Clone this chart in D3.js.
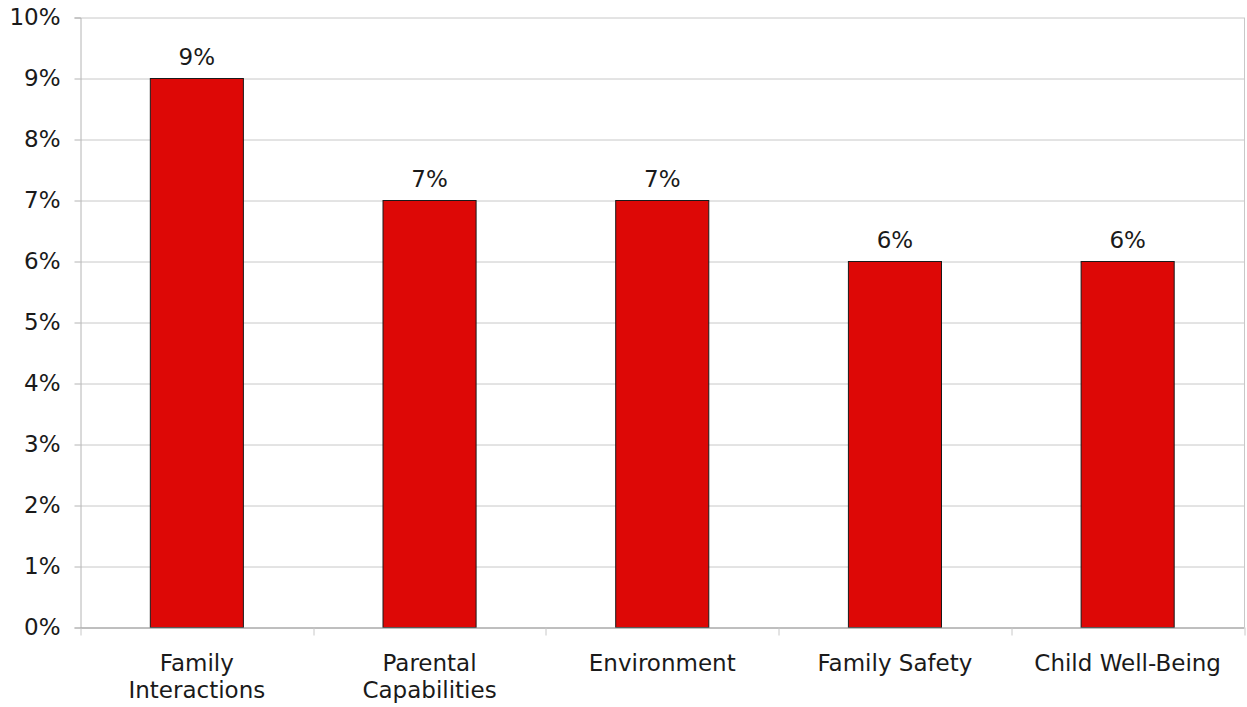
<!DOCTYPE html>
<html>
<head>
<meta charset="utf-8">
<script src="https://cdn.jsdelivr.net/npm/d3@7"></script>
<style>
  html, body { margin: 0; padding: 0; background: #fff; }
  svg { display: block; }
  text { font-family: "DejaVu Sans", Verdana, sans-serif; fill: #1a1a1a; }
</style>
</head>
<body>
<svg id="chart" width="1247" height="707"></svg>
<script>
// Share of cases by domain
const categories = [
  ["Family", "Interactions"],
  ["Parental", "Capabilities"],
  ["Environment"],
  ["Family Safety"],
  ["Child Well-Being"]
];
const values = [9, 7, 7, 6, 6];
const yTicks = [0, 1, 2, 3, 4, 5, 6, 7, 8, 9, 10];

const W = 1247, H = 707;
const margin = { top: 17.5, right: 3, bottom: 79.5, left: 80.5 };
const innerW = W - margin.left - margin.right;
const innerH = H - margin.top - margin.bottom;

const svg = d3.select("#chart");
const g = svg.append("g").attr("transform", `translate(${margin.left},${margin.top})`);

const keys = categories.map(c => c.join(" "));
const x = d3.scaleBand().domain(keys).range([0, innerW]).paddingInner(0.6).paddingOuter(0.3);
const y = d3.scaleLinear().domain([0, 10]).range([innerH, 0]);

const fontSize = 23;

// horizontal gridlines
g.append("g").selectAll("line").data(yTicks).join("line")
  .attr("x1", 0).attr("x2", innerW)
  .attr("y1", d => Math.round(y(d)) + 0.5).attr("y2", d => Math.round(y(d)) + 0.5)
  .attr("stroke", "#c8c8c8").attr("stroke-width", 1);

// right frame edge
g.append("line")
  .attr("x1", innerW + 0.5).attr("x2", innerW + 0.5)
  .attr("y1", 0).attr("y2", innerH)
  .attr("stroke", "#c8c8c8");

// y axis
const yAxis = d3.axisLeft(y).tickValues(yTicks).tickFormat(d => d + "%").tickSize(6).tickPadding(14);
const ya = g.append("g").call(yAxis);
ya.select(".domain").attr("stroke", "#b4b4b4");
ya.selectAll(".tick line").attr("stroke", "#b4b4b4");
ya.selectAll(".tick text").style("font-size", fontSize + "px").style("font-family", '"DejaVu Sans", Verdana, sans-serif').attr("fill", "#1a1a1a");

// bars
g.append("g").selectAll("rect").data(values).join("rect")
  .attr("x", (d, i) => x(keys[i]))
  .attr("y", d => y(d))
  .attr("width", x.bandwidth())
  .attr("height", d => innerH - y(d))
  .attr("fill", "#dd0806")
  .attr("stroke", "#1a1a1a")
  .attr("stroke-width", 1);

// value labels
g.append("g").selectAll("text").data(values).join("text")
  .attr("x", (d, i) => x(keys[i]) + x.bandwidth() / 2)
  .attr("y", d => y(d) - 14)
  .attr("text-anchor", "middle")
  .style("font-size", fontSize + "px")
  .text(d => d + "%");

// x axis baseline and category dividers
const step = x.step();
const xb = g.append("g").attr("transform", `translate(0,${innerH})`);
xb.append("line")
  .attr("x1", 0).attr("x2", innerW + 0.5)
  .attr("y1", 0.5).attr("y2", 0.5)
  .attr("stroke", "#9a9a9a");
xb.selectAll("line.div").data(d3.range(keys.length + 1)).join("line")
  .attr("class", "div")
  .attr("x1", i => Math.round(i * step) + 0.5).attr("x2", i => Math.round(i * step) + 0.5)
  .attr("y1", 0).attr("y2", 8)
  .attr("stroke", "#c8c8c8");

// category labels
const lbl = xb.selectAll("text.cat").data(categories).join("text")
  .attr("class", "cat")
  .attr("text-anchor", "middle")
  .attr("x", (d, i) => x(keys[i]) + x.bandwidth() / 2)
  .attr("y", 43)
  .style("font-size", fontSize + "px");
lbl.selectAll("tspan").data(d => d).join("tspan")
  .attr("x", function () { return d3.select(this.parentNode).attr("x"); })
  .attr("dy", (d, i) => i === 0 ? 0 : 27.5)
  .text(d => d);
</script>
</body>
</html>
